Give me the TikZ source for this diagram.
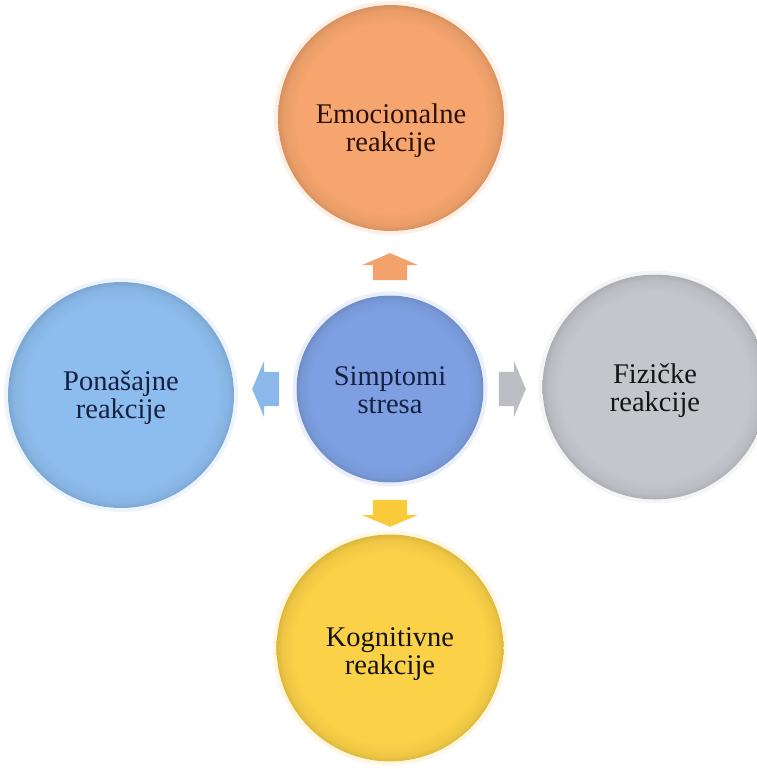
\documentclass[tikz,border=0pt]{standalone}
\usepackage{fontspec}
\setmainfont{Liberation Serif}
\usetikzlibrary{shapes.arrows,calc}
\definecolor{cE}{HTML}{F5A56D}
\definecolor{cC}{HTML}{7EA0E2}
\definecolor{cP}{HTML}{8DBDEE}
\definecolor{cF}{HTML}{C5C6CC}
\definecolor{cK}{HTML}{FBD147}
\definecolor{tE}{HTML}{2B1205}
\definecolor{tB}{HTML}{16203F}
\definecolor{tK}{HTML}{141414}
\definecolor{aE}{HTML}{F3A26B}
\definecolor{aP}{HTML}{8AB8EA}
\definecolor{aF}{HTML}{BDBEC4}
\definecolor{aK}{HTML}{F9CB3B}
\newcommand\mkbevel[2]{\pgfdeclareradialshading{bevel#1}{\pgfpoint{0bp}{0bp}}{color(0bp)=(#2);color(21bp)=(#2);color(23.8bp)=(#2!95!black);color(25bp)=(#2!88!black);color(50bp)=(#2!88!black)}}
\mkbevel{E}{cE}
\mkbevel{C}{cC}
\mkbevel{P}{cP}
\mkbevel{F}{cF}
\mkbevel{K}{cK}
\tikzset{
  circ/.style={circle, shade, draw=none, inner sep=0pt},
  lbl/.style={inner sep=0pt, align=center, font=\fontsize{28.5}{28}\selectfont},
  blockarrow/.style={single arrow, draw=none, inner xsep=0pt, inner ysep=17pt,
    minimum height=27pt,
    single arrow head extend=11pt, single arrow tip angle=134},
  halo/.style={line width=4pt, opacity=0.35}
}
\begin{document}
\begin{tikzpicture}[x=1pt,y=-1pt]
\useasboundingbox (0,0) rectangle (756,769);
\fill[white] (0,0) rectangle (756,769);
% circles
\node[circ, shading=bevelE, minimum size=226pt] (E) at (391,118) {};
\node[circ, shading=bevelP, minimum size=226pt] (P) at (121,395) {};
\node[circ, shading=bevelF, minimum size=225pt] (F) at (655,387) {};
\node[circ, shading=bevelK, minimum size=227pt] (K) at (390,648) {};
\node[circ, shading=bevelC, minimum size=187pt] (C) at (390,389) {};
% halos
\draw[halo, cE!45] (E.center) circle [radius=115pt];
\draw[halo, cP!45] (P.center) circle [radius=115pt];
\draw[halo, cF!45] (F.center) circle [radius=114.5pt];
\draw[halo, cK!45] (K.center) circle [radius=115.5pt];
\draw[halo, cC!45] (C.center) circle [radius=95.5pt];
% texts
\node[lbl, text=tE] (Et) at ($(E.center)+(0,13)$) {Emocionalne\\reakcije};
\node[lbl, text=tB] (Pt) at ($(P.center)+(0,3)$) {Ponašajne\\reakcije};
\node[lbl, text=tK] (Ft) at ($(F.center)+(0,4)$) {Fizičke\\reakcije};
\node[lbl, text=tK] (Kt) at ($(K.center)+(0,6)$) {Kognitivne\\reakcije};
\node[lbl, text=tB] (Ct) at ($(C.center)+(0,1)$) {Simptomi\\stresa};
% block arrows
\node[blockarrow, fill=aE, rotate=90] (arE) at ($(C.north)+(0,-25)$) {};
\node[blockarrow, fill=aP, rotate=180] (arP) at ($(C.west)+(-27,0)$) {};
\node[blockarrow, fill=aF] (arF) at ($(C.east)+(25,0)$) {};
\node[blockarrow, fill=aK, rotate=270] (arK) at ($(C.south)+(0,27)$) {};
\end{tikzpicture}
\end{document}
